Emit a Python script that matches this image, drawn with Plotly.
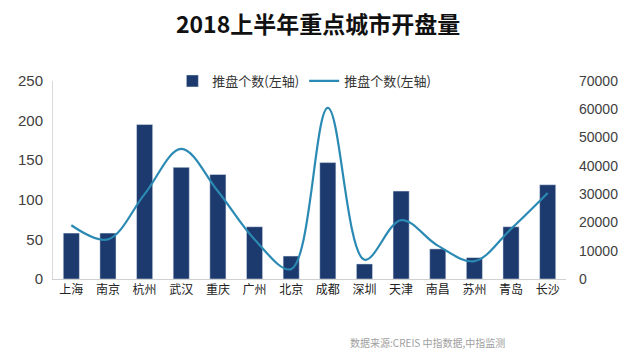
import plotly.graph_objects as go

cities = ["上海", "南京", "杭州", "武汉", "重庆", "广州", "北京", "成都", "深圳", "天津", "南昌", "苏州", "青岛", "长沙"]
bar_values = [58, 58, 195, 141, 132, 66, 29, 147, 19, 111, 38, 27, 66, 119]
line_values = [19000, 14000, 30000, 46000, 31000, 14000, 3500, 60500, 6800, 20800, 11800, 6300, 17700, 30400]
left_ticks = [0, 50, 100, 150, 200, 250]
right_ticks = [0, 10000, 20000, 30000, 40000, 50000, 60000, 70000]

font_family = "Noto Sans CJK SC, Liberation Sans, Arial, sans-serif"
num_font = "Liberation Sans, Arial, sans-serif"

fig = go.Figure()
fig.add_trace(go.Bar(
    x=cities, y=bar_values, name="推盘个数(左轴)",
    marker=dict(color="#1C3A6E"), yaxis="y",
))
fig.add_trace(go.Scatter(
    x=cities, y=line_values, name="推盘个数(左轴)", mode="lines",
    line=dict(color="#2B8AB3", width=2.2, shape="spline", smoothing=1.0),
    yaxis="y2",
))

fig.update_layout(
    width=640, height=360,
    margin=dict(l=53, r=74, t=81, b=81),
    paper_bgcolor="white", plot_bgcolor="white",
    font=dict(family=font_family, color="#333333"),
    title=dict(text="<b>2018上半年重点城市开盘量</b>", x=0.497, xanchor="center",
               y=0.93, yanchor="middle", font=dict(size=23, color="#111111", family=font_family)),
    bargap=0.56,
    showlegend=True,
    legend=dict(orientation="h", x=0.49, xanchor="center", y=1.0, yanchor="middle",
                font=dict(size=13, color="#333333"), bgcolor="rgba(0,0,0,0)",
                itemwidth=30, traceorder="normal"),
    xaxis=dict(showgrid=False, showline=True, linecolor="#d0d0d0", linewidth=1,
               ticks="", tickfont=dict(size=12, color="#222222")),
    yaxis=dict(range=[0, 250], tickvals=left_ticks, showgrid=False, zeroline=False,
               showline=True, linecolor="#d9d9d9", linewidth=1, ticks="",
               tickfont=dict(size=15, color="#404040", family=num_font),
               ticklabelstandoff=6),
    yaxis2=dict(range=[0, 70000], tickvals=right_ticks, tickformat="d", overlaying="y", side="right",
                showgrid=False, zeroline=False, showline=False, ticks="",
                tickfont=dict(size=14, color="#404040", family=num_font),
                ticklabelstandoff=12),
)

fig.add_annotation(text="数据来源:CREIS 中指数据,中指监测", xref="paper", yref="paper",
                   x=0.885, y=-0.323, xanchor="right", yanchor="middle", showarrow=False,
                   font=dict(size=10, color="#a0a0a0"))

fig.write_html("out.html", config={"displayModeBar": False},
               post_script="document.body.style.margin='0';document.body.style.padding='0';")
